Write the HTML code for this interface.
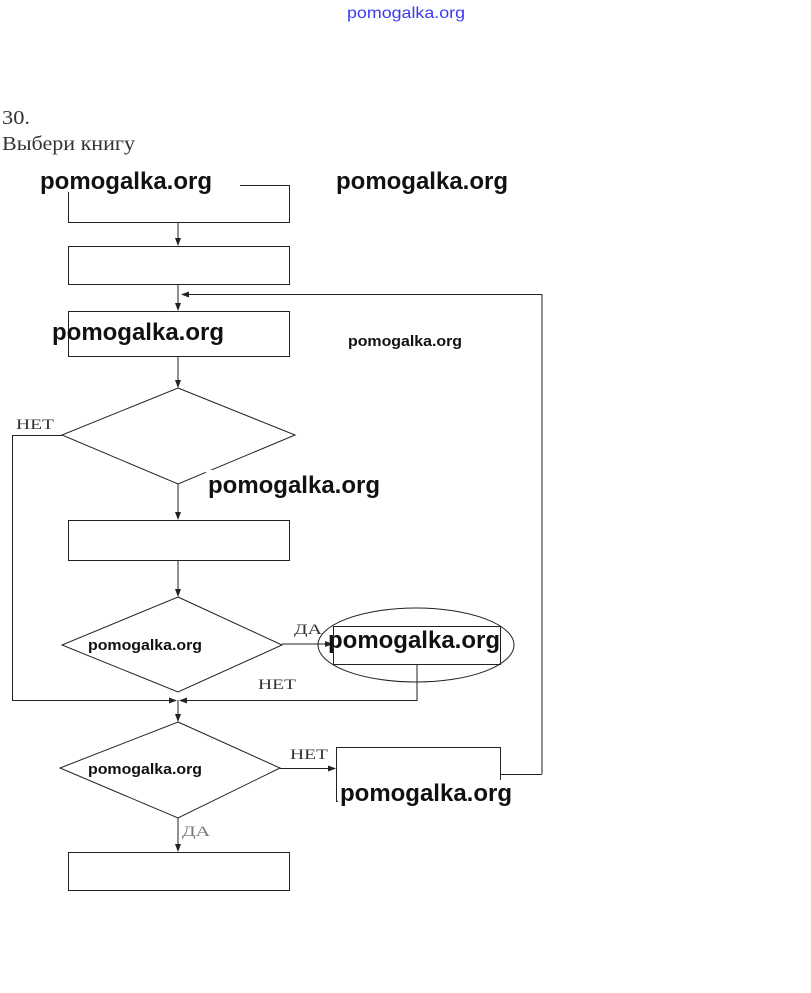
<!DOCTYPE html>
<html><head><meta charset="utf-8"><style>
body{margin:0;background:#fff;width:811px;height:993px;overflow:hidden}
</style></head><body>
<svg width="811" height="993" xmlns="http://www.w3.org/2000/svg" style="position:absolute;left:0;top:0">
<defs><marker id="a" markerWidth="8" markerHeight="8" refX="7" refY="4" orient="auto"><path d="M0,1 L8,4 L0,7z" fill="#222"/></marker></defs>
<g font-family="Liberation Sans, sans-serif">
<text x="347" y="18" font-size="16" fill="#3a3af0" textLength="118" lengthAdjust="spacingAndGlyphs">pomogalka.org</text>
</g>
<g font-family="Liberation Serif, serif" fill="#333">
<text x="2" y="124" font-size="20" textLength="28" lengthAdjust="spacingAndGlyphs">30.</text>
<text x="2" y="150" font-size="20" textLength="133" lengthAdjust="spacingAndGlyphs">Выбери книгу</text>
<text x="16" y="429" font-size="15" textLength="38" lengthAdjust="spacingAndGlyphs">НЕТ</text>
<text x="294" y="634" font-size="15" textLength="28" lengthAdjust="spacingAndGlyphs">ДА</text>
<text x="258" y="689" font-size="15" textLength="38" lengthAdjust="spacingAndGlyphs">НЕТ</text>
<text x="290" y="759" font-size="15" textLength="38" lengthAdjust="spacingAndGlyphs">НЕТ</text>
<text x="182" y="836" font-size="15" fill="#777" textLength="28" lengthAdjust="spacingAndGlyphs">ДА</text>
</g>
<g stroke="#222" stroke-width="1" fill="none">
<rect x="68.5" y="185.5" width="221" height="37"/>
<rect x="68.5" y="246.5" width="221" height="38"/>
<rect x="68.5" y="311.5" width="221" height="45"/>
<rect x="68.5" y="520.5" width="221" height="40"/>
<rect x="68.5" y="852.5" width="221" height="38"/>
<rect x="333.5" y="626.5" width="167" height="38"/>
<rect x="336.5" y="747.5" width="164" height="54"/>
<ellipse cx="416" cy="645" rx="98" ry="37"/>
<polygon points="178,388 295,435 178,484 62,435"/>
<polygon points="178,597 282,645 178,692 62,645"/>
<polygon points="178,722 280,768 178,818 60,768"/>
<line x1="178" y1="222" x2="178" y2="245" marker-end="url(#a)"/>
<line x1="178" y1="284" x2="178" y2="310" marker-end="url(#a)"/>
<polyline points="542,774 542,294.5 182,294.5" marker-end="url(#a)"/>
<line x1="500" y1="774.5" x2="542" y2="774.5"/>
<line x1="178" y1="356" x2="178" y2="387" marker-end="url(#a)"/>
<line x1="178" y1="484" x2="178" y2="519" marker-end="url(#a)"/>
<line x1="178" y1="560" x2="178" y2="596" marker-end="url(#a)"/>
<polyline points="62,435.5 12.5,435.5 12.5,700.5 176,700.5" marker-end="url(#a)"/>
<polyline points="417,664 417,700.5 180,700.5" marker-end="url(#a)"/>
<line x1="282" y1="644" x2="332" y2="644" marker-end="url(#a)"/>
<line x1="178" y1="700" x2="178" y2="721" marker-end="url(#a)"/>
<line x1="280" y1="768.5" x2="335" y2="768.5" marker-end="url(#a)"/>
<line x1="178" y1="818" x2="178" y2="851" marker-end="url(#a)"/>
</g>
<g font-family="Liberation Sans, sans-serif" fill="#111" font-weight="bold">
<rect x="40" y="166" width="200" height="26" fill="#fff"/>
<text x="40" y="189" font-size="24" textLength="172" lengthAdjust="spacingAndGlyphs">pomogalka.org</text>
<text x="336" y="189" font-size="24" textLength="172" lengthAdjust="spacingAndGlyphs">pomogalka.org</text>
<text x="52" y="340" font-size="24" textLength="172" lengthAdjust="spacingAndGlyphs">pomogalka.org</text>
<text x="348" y="346" font-size="15" textLength="114" lengthAdjust="spacingAndGlyphs">pomogalka.org</text>
<rect x="206" y="470" width="176" height="26" fill="#fff"/>
<text x="208" y="493" font-size="24" textLength="172" lengthAdjust="spacingAndGlyphs">pomogalka.org</text>
<text x="88" y="650" font-size="15" textLength="114" lengthAdjust="spacingAndGlyphs">pomogalka.org</text>
<text x="328" y="648" font-size="24" textLength="172" lengthAdjust="spacingAndGlyphs">pomogalka.org</text>
<text x="88" y="774" font-size="15" textLength="114" lengthAdjust="spacingAndGlyphs">pomogalka.org</text>
<rect x="338" y="780" width="176" height="26" fill="#fff"/>
<text x="340" y="801" font-size="24" textLength="172" lengthAdjust="spacingAndGlyphs">pomogalka.org</text>
</g>
</svg>
</body></html>
